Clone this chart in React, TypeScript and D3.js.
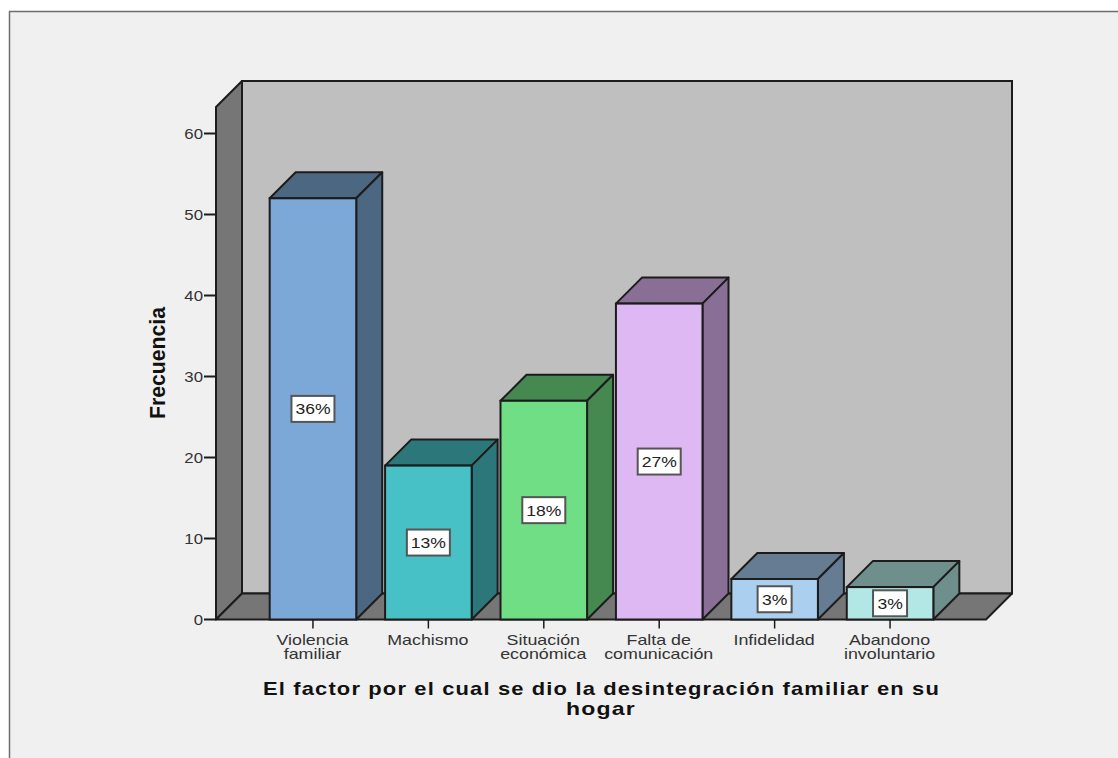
import React from "react";
import * as d3 from "d3";

const categories = ["Violencia familiar", "Machismo", "Situación económica", "Falta de comunicación", "Infidelidad", "Abandono involuntario"];
const categoryLines = [["Violencia", "familiar"], ["Machismo"], ["Situación", "económica"], ["Falta de", "comunicación"], ["Infidelidad"], ["Abandono", "involuntario"]];
const frequencies = [52, 19, 27, 39, 5, 4];
const percentLabels = ["36%", "13%", "18%", "27%", "3%", "3%"];
const frontColors = ["#7BA8D6", "#47C1C6", "#70DE84", "#DEB8F2", "#ABCFEE", "#B3E7E5"];
const sideColors = ["#4C6782", "#2C777A", "#458951", "#896F95", "#667C92", "#6F8F8D"];
const yTicks = [0, 10, 20, 30, 40, 50, 60];
const titleLines = ["El factor por el cual se dio la desintegración familiar en su", "hogar"];
const yTitle = "Frecuencia";

const FONT = "'Liberation Sans', Arial, sans-serif";
const INK = "#1c1c1c";

export default function App() {
  const y = d3.scaleLinear().domain([0, 60]).range([619.5, 133.5]);
  const x = d3.scaleBand<string>().domain(categories).range([216, 987]).paddingInner(0.25).paddingOuter(0.465);
  const dx = 26, dy = 26;
  const x0 = 216, x1 = 987, yBase = y(0), yTop = 107;
  const pts = (p: number[][]) => p.map((q) => q.join(",")).join(" ");
  return (
    <svg width={1118} height={758} style={{ position: "absolute", left: 0, top: 0, display: "block" }} fontFamily={FONT}>
      <rect x={0} y={0} width={1118} height={758} fill="#ffffff" />
      <rect x={9.5} y={11.5} width={1120} height={760} fill="#f0f0f0" stroke="#6e6e6e" strokeWidth={1.5} />
      {/* walls */}
      <polygon points={pts([[x0 + dx, yTop - dy], [x1 + dx - 1, yTop - dy], [x1 + dx - 1, yBase - dy], [x0 + dx, yBase - dy]])} fill="#bfbfbf" stroke={INK} strokeWidth={2} />
      <polygon points={pts([[x0, yTop], [x0 + dx, yTop - dy], [x0 + dx, yBase - dy], [x0, yBase]])} fill="#767676" stroke={INK} strokeWidth={2} strokeLinejoin="round" />
      <polygon points={pts([[x0, yBase], [x0 + dx, yBase - dy], [x1 + dx - 1, yBase - dy], [x1 - 1, yBase]])} fill="#767676" stroke={INK} strokeWidth={2} strokeLinejoin="round" />
      {/* y axis */}
      {yTicks.map((t) => (
        <g key={t}>
          <line x1={x0 - 12} x2={x0} y1={y(t)} y2={y(t)} stroke={INK} strokeWidth={2} />
          <text transform={`translate(${x0 - 13},${y(t) + 5.5}) scale(1.12,1)`} textAnchor="end" fontSize={15} fill="#333">{t}</text>
        </g>
      ))}
      <text transform={`translate(165,${363}) rotate(-90)`} textAnchor="middle" fontSize={22} fontWeight="bold" fill="#111" textLength={112} lengthAdjust="spacingAndGlyphs">{yTitle}</text>
      {/* bars */}
      {categories.map((c, i) => {
        const bx = x(c)!, bw = x.bandwidth(), v = frequencies[i], ty = y(v);
        const cx = bx + bw / 2, my = (ty + yBase) / 2;
        const lw = percentLabels[i].length === 3 ? 43 : 34;
        return (
          <g key={c}>
            <polygon points={pts([[bx, ty], [bx + dx, ty - dy], [bx + bw + dx, ty - dy], [bx + bw, ty]])} fill={sideColors[i]} stroke={INK} strokeWidth={2} strokeLinejoin="round" />
            <polygon points={pts([[bx + bw, ty], [bx + bw + dx, ty - dy], [bx + bw + dx, yBase - dy], [bx + bw, yBase]])} fill={sideColors[i]} stroke={INK} strokeWidth={2} strokeLinejoin="round" />
            <rect x={bx} y={ty} width={bw} height={yBase - ty} fill={frontColors[i]} stroke={INK} strokeWidth={2} />
            <rect x={cx - lw / 2} y={my - 13} width={lw} height={26} fill="#ffffff" stroke="#555" strokeWidth={2} />
            <text transform={`translate(${cx},${my + 5.5}) scale(1.17,1)`} textAnchor="middle" fontSize={15} fill="#222">{percentLabels[i]}</text>
            <line x1={cx} x2={cx} y1={yBase} y2={yBase + 9} stroke={INK} strokeWidth={1.5} />
            {categoryLines[i].map((l, k) => (
              <text key={k} transform={`translate(${cx - 0.5},${644.5 + k * 14.5}) scale(1.23,1)`} textAnchor="middle" fontSize={14.5} fill="#333">{l}</text>
            ))}
          </g>
        );
      })}
      {/* x title */}
      <text x={601.5} y={694.5} textAnchor="middle" fontSize={19} fontWeight="bold" fill="#111" letterSpacing={1} textLength={677} lengthAdjust="spacingAndGlyphs">{titleLines[0]}</text>
      <text x={601} y={714.5} textAnchor="middle" fontSize={19} fontWeight="bold" fill="#111" letterSpacing={1} textLength={70} lengthAdjust="spacingAndGlyphs">{titleLines[1]}</text>
    </svg>
  );
}
